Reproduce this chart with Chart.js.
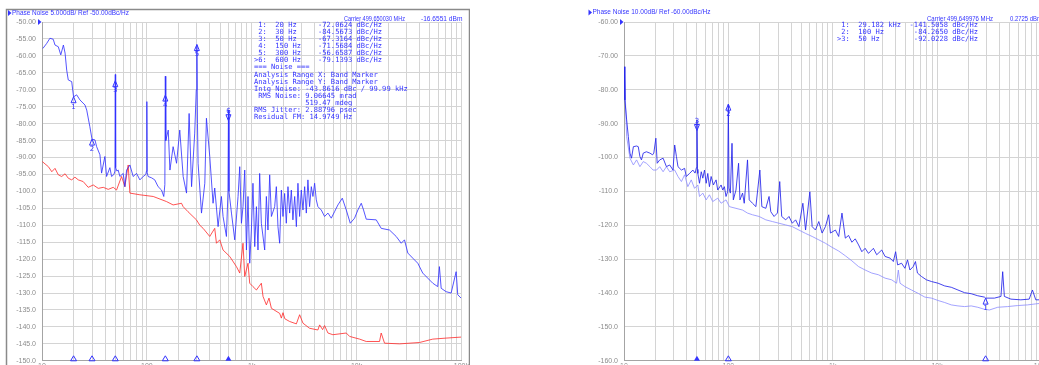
<!DOCTYPE html>
<html>
<head>
<meta charset="utf-8">
<script src="https://cdn.jsdelivr.net/npm/chart.js@4.4.1/dist/chart.umd.min.js"></script>
<style>
  html, body { margin: 0; padding: 0; background: #fff; width: 1039px; height: 365px; overflow: hidden; position: relative; }
  canvas { position: absolute; top: 0; }
  #left { left: 0; }
  #right { left: 580px; }
</style>
</head>
<body>
<canvas id="left" width="470" height="371" style="width:470px;height:371px"></canvas>
<canvas id="right" width="470" height="371" style="width:470px;height:371px"></canvas>
<script>
'use strict';

/**
 */

// left screen, measured trace (blue)
const pnFreq = [10.2, 11.1, 11.9, 12.8, 13.3, 14.3, 15.1, 16.0, 16.6, 17.2, 17.8, 19.2, 20, 21.4, 23, 25.7, 26.7, 28.6, 30, 32, 33.2, 35.7, 37, 39.8, 41.3, 44.4, 46.1, 48.5, 49.6, 50, 50.4, 51.8, 53.3, 55.3, 59.5, 61.7, 64.1, 68.9, 74.1, 79.8, 85.8, 92.2, 97.8, 99.2, 100, 100.8, 102.8, 111, 119, 128, 138, 145, 148.5, 150, 151.5, 160, 166, 178, 192, 206, 222, 239, 253, 267, 286, 296, 300, 304, 308, 332, 357, 370, 398, 428, 444, 478, 514, 533, 574, 594, 600, 607, 641, 689, 741, 769, 798, 826, 858, 891, 922, 957, 993, 1028, 1069, 1109, 1148, 1191, 1236, 1330, 1380, 1429, 1484, 1541, 1656, 1718, 1780, 1848, 1918, 1987, 2061, 2138, 2218, 2301, 2388, 2472, 2570, 2667, 2761, 2865, 2972, 3083, 3199, 3318, 3436, 3565, 3703, 3837, 3981, 4130, 4279, 4610, 4955, 5333, 5741, 6166, 6637, 7311, 7980, 8710, 9572, 10290, 11090, 11660, 12370, 15410, 17180, 20610, 23880, 26670, 28640, 30830, 34360, 38370, 42760, 47750, 53330, 59430, 61660, 64120, 71450, 79800, 89100, 92250, 99300];
const pnLevel = [-57.8, -56.3, -54.8, -55.1, -56.8, -57.3, -59.7, -56.8, -59.2, -64.2, -67.1, -67.6, -72.1, -71.5, -73, -74.5, -76, -80.9, -84.6, -84.8, -86.8, -89.2, -94.6, -89.7, -95.6, -93, -95.6, -95, -94, -65.5, -93, -94, -93.7, -95.6, -94.7, -98.6, -93.7, -92.2, -95.6, -94.7, -96.6, -95.6, -95, -94, -73.5, -94.5, -95.6, -96, -96.6, -98.6, -99.6, -101.5, -98, -66, -85, -81.9, -93.7, -86.8, -91.7, -81.9, -95.6, -100.5, -77, -98.6, -82.8, -70, -56.7, -80, -91.7, -106.4, -97.6, -78.4, -89.7, -103.5, -99, -110.4, -101.5, -107.4, -113.3, -100, -76, -100, -106.4, -114.3, -101.5, -92.7, -109.4, -104.5, -93.7, -117.3, -101.5, -121.2, -111.4, -97.6, -116.3, -104.5, -117.3, -94.7, -109.4, -117.3, -101.5, -111.4, -95.1, -107.4, -104.5, -98.6, -110.4, -115.3, -99.6, -107.4, -100.6, -109.4, -98.6, -106.4, -99.6, -108.4, -101.5, -110.4, -97.6, -107.4, -99.6, -105.5, -98.6, -106.4, -96.6, -104.5, -98.6, -101.5, -97.6, -102.5, -104.5, -105.5, -107.4, -106.4, -107.9, -106, -104, -102, -105.5, -109.4, -107.9, -105.5, -103.5, -105.5, -108.2, -108.4, -110.9, -111.4, -113.3, -115.3, -114.3, -118.2, -119.7, -121.2, -124.1, -125.6, -127.1, -128.1, -122.2, -128.6, -129.6, -130.0, -123.7, -130.5, -131.5];

// left screen, reference floor (red)
const floorFreq = [10.07, 10.7, 11.5, 12.4, 13.3, 14.3, 15.4, 16.6, 17.8, 19.2, 20.6, 22.2, 24.7, 27.6, 30.8, 34.4, 38.4, 42.8, 47.8, 51.4, 57.4, 61.7, 66.4, 68.9, 85.8, 115, 154, 178, 214, 222, 247, 297, 320, 344, 398, 444, 461, 496, 533, 617, 715, 769, 826, 858, 922, 957, 1028, 1109, 1236, 1282, 1380, 1462, 1541, 1848, 1918, 1987, 2070, 2301, 2667, 2865, 3083, 3565, 4279, 4443, 4745, 4955, 5333, 5943, 7980, 8580, 10690, 12370, 16560, 17180, 18490, 25700, 39810, 53330, 71450, 99300];
const floorLevel = [-91.2, -91.9, -92.7, -94.2, -93.2, -95.1, -95.6, -94.8, -96.1, -96.6, -95.8, -96.6, -97.1, -98.8, -98.1, -99.1, -98.8, -99.4, -98.8, -99.6, -95.6, -98.6, -92.2, -100.5, -101, -101.5, -103, -104, -103.5, -104.5, -106, -108.4, -110, -110.9, -113.3, -110.9, -115.3, -114.3, -117.3, -119.2, -122.2, -124.1, -115.3, -125.1, -121.2, -127.1, -128.1, -129.1, -127.1, -131, -133.5, -131.5, -134.5, -136, -137.4, -135.8, -137.6, -138.4, -139.1, -136.4, -138.9, -140.4, -140.9, -139.4, -140.8, -139.6, -141.8, -142.3, -141.8, -142.8, -143.6, -144.3, -144.3, -141.8, -144.8, -145, -144.6, -143.6, -143.3, -143];

// right screen, measured trace (dark blue)
const dutFreq = [10.07, 10.2, 10.6, 11.0, 11.4, 11.8, 12.3, 13.2, 13.7, 14.2, 14.7, 15.3, 16.4, 17.7, 18.8, 19.3, 20.2, 20.8, 22.0, 23.7, 25.5, 27.4, 29.5, 30.6, 31.8, 32.9, 35.5, 38.1, 39.5, 42.5, 45.7, 48.0, 49.4, 50, 50.6, 51.0, 52.9, 55.0, 56.9, 59.1, 61.3, 63.5, 65.9, 68.4, 71.9, 76.3, 79.1, 85.2, 88.3, 91.6, 95.0, 98.4, 100, 101.5, 104.5, 108.4, 111.6, 118.3, 125.3, 129.2, 136.8, 142, 152.6, 158.5, 170.3, 183.6, 200.4, 209.4, 228.6, 245.6, 255.1, 274.2, 295.1, 310.7, 324.6, 354.5, 381, 409.5, 441.2, 474.2, 517.6, 549.5, 603.9, 635.3, 684, 735.6, 791, 851, 916, 951, 1062, 1141, 1227, 1321, 1419, 1527, 1644, 1770, 1901, 2046, 2203, 2455, 2641, 2950, 3176, 3548, 3811, 4009, 4188, 4571, 4920, 5212, 5495, 5907, 6209, 6489, 7083, 7907, 8831, 10230, 11840, 13680, 15850, 18360, 21230, 24550, 28430, 29182, 35480, 40960, 42540, 44160, 51050, 63530, 76380, 82060, 88310, 100000];
const dutLevel = [-73.2, -83, -88.9, -93.8, -98.7, -100.2, -96.8, -96.6, -96.8, -99.7, -100.7, -98.7, -98.3, -98.7, -99.2, -98.7, -94.3, -101.7, -100.7, -100.2, -102.7, -102.2, -103.7, -96.3, -99.7, -102.7, -103.7, -103.2, -105.6, -104.7, -103.7, -104.6, -103, -88.9, -103.5, -104.7, -107.6, -104.2, -106.1, -103.7, -107.6, -104.7, -108.6, -105.6, -108.1, -106.6, -109.6, -108.1, -109.6, -108.6, -111.5, -110.1, -84.3, -109, -110.5, -95.8, -112.5, -109.6, -101.7, -112.5, -110.5, -113.5, -100.7, -112.5, -113.5, -114.5, -103.7, -114.5, -115.0, -111.5, -116, -117.4, -116.4, -107.1, -117.4, -118.4, -117.4, -119.4, -118.4, -120.4, -113.5, -121.4, -110.1, -120.4, -121.4, -118.9, -122.3, -120.4, -116.9, -122.3, -121.4, -123.3, -116.4, -123.8, -123, -125, -124, -125.8, -127.8, -126.8, -128.3, -126.8, -128.7, -127.3, -129.2, -129.7, -130.7, -127.8, -131.7, -131.2, -132.7, -130.2, -133.2, -132.2, -130.7, -134.1, -135.1, -136.1, -136.6, -137.1, -137.9, -138.3, -139.1, -139.9, -140.2, -140.8, -141.2, -141.5, -141.5, -141, -133.7, -141, -141.8, -142, -141.8, -139.1, -142, -142];

// right screen, reference trace (light blue)
const refFreq = [10.1, 10.4, 10.6, 11.4, 12.3, 13.2, 14.2, 15.3, 16.4, 17.7, 19.0, 20.5, 22.0, 23.7, 25.5, 27.4, 30.6, 32.9, 35.5, 38.1, 40.9, 44.1, 47.4, 51.0, 52.9, 56.9, 61.3, 65.9, 70.8, 79.1, 85.2, 95.0, 102.3, 118.3, 136.8, 152.6, 170.3, 197.2, 228.6, 264.2, 306, 354.5, 409.5, 474.2, 549.5, 635.3, 735.6, 851, 984, 1141, 1321, 1527, 1770, 2046, 2367, 2742, 3176, 3673, 4093, 4256, 4416, 4920, 5692, 6592, 7638, 8831, 10230, 11840, 13680, 15850, 18360, 21230, 24550, 28430, 31770, 38110, 47430, 59020, 73620, 88310, 100000];
const refLevel = [-75, -86, -93.8, -100.2, -102.2, -100.7, -102.7, -101.2, -101.7, -102.7, -103.7, -103.7, -102.7, -104.2, -102.7, -104.2, -103.7, -105.6, -107.1, -105.1, -108.6, -106.6, -109.1, -108.1, -111.5, -110.5, -112.5, -111, -113, -112, -113.5, -112.5, -114.5, -115, -115.5, -116.4, -116.9, -117.4, -118.4, -118.9, -119.4, -119.9, -120.4, -121.4, -122.4, -123.3, -124.3, -125.3, -126.5, -127.6, -129, -130.5, -132.2, -133.2, -134.1, -134.6, -135.6, -136.1, -137.1, -133.2, -137.1, -138.1, -139.1, -140.1, -141.2, -141.5, -142.2, -142.8, -143.5, -143.8, -144, -143.8, -144.2, -144.8, -145, -144.2, -144, -143.7, -143.5, -143.2, -143];

// axes
const freqGrid = [10, 20, 30, 40, 50, 60, 70, 80, 90, 100, 200, 300, 400, 500, 600, 700, 800, 900, 1000, 2000, 3000, 4000, 5000, 6000, 7000, 8000, 9000, 10000, 20000, 30000, 40000, 50000, 60000, 70000, 80000, 90000, 100000];
const decades = [10, 100, 1000, 10000, 100000];
const decadeText = ['10', '100', '1k', '10k', '100k'];
const leftLevels = [-50, -55, -60, -65, -70, -75, -80, -85, -90, -95, -100, -105, -110, -115, -120, -125, -130, -135, -140, -145, -150];
const rightLevels = [-60, -70, -80, -90, -100, -110, -120, -130, -140, -150, -160];

// markers
const leftMarkerFreq = [20, 30, 50, 150, 300, 600];
const leftMarkerLevel = [-72.0624, -84.5673, -67.3164, -71.5684, -56.6587, -79.1393];
const rightMarkerFreq = [29182, 100, 50];
const rightMarkerLevel = [-141.5058, -84.2650, -92.0228];

const leftReadout = [
  ' 1:  20 Hz     -72.0624 dBc/Hz',
  ' 2:  30 Hz     -84.5673 dBc/Hz',
  ' 3:  50 Hz     -67.3164 dBc/Hz',
  ' 4:  150 Hz    -71.5684 dBc/Hz',
  ' 5:  300 Hz    -56.6587 dBc/Hz',
  '>6:  600 Hz    -79.1393 dBc/Hz',
  '=== Noise ===',
  'Analysis Range X: Band Marker',
  'Analysis Range Y: Band Marker',
  'Intg Noise: -43.8616 dBc / 99.99 kHz',
  ' RMS Noise: 9.06645 mrad',
  '            519.47 mdeg',
  'RMS Jitter: 2.88796 psec',
  'Residual FM: 14.9749 Hz'
];
const rightReadout = [
  ' 1:  29.182 kHz  -141.5058 dBc/Hz',
  ' 2:  100 Hz       -84.2650 dBc/Hz',
  '>3:  50 Hz        -92.0228 dBc/Hz'
];


/**
 * helpers
 */

const toPoints = function (xs, ys) {
  return xs.map(function (x, i) { return { x: x, y: ys[i] }; });
}

const BLUE_TEXT = '#3434ff';

const drawMarker = function (ctx, x, y, label, active) {
  ctx.beginPath();
  if (active) {
    ctx.moveTo(x, y); ctx.lineTo(x - 2.5, y - 6); ctx.lineTo(x + 2.5, y - 6);
  } else {
    ctx.moveTo(x, y); ctx.lineTo(x - 2.5, y + 6); ctx.lineTo(x + 2.5, y + 6);
  }
  ctx.closePath();
  ctx.stroke();
  ctx.fillText(label, x, active ? y - 9.5 : y + 10);
}

const overlay = function (o) {
  return {
    id: 'screen',
    afterDraw: function (chart) {
      const ctx = chart.ctx;
      const xs = chart.scales.x;
      const ys = chart.scales.y;
      const area = chart.chartArea;
      ctx.save();

      if (o.frame) {
        ctx.strokeStyle = '#8a8a8a';
        ctx.lineWidth = 1.5;
        ctx.beginPath();
        ctx.moveTo(6.5, 371); ctx.lineTo(6.5, 9.5); ctx.lineTo(469.5, 9.5); ctx.lineTo(469.5, 371);
        ctx.stroke();
      }

      // title + carrier
      ctx.fillStyle = BLUE_TEXT;
      ctx.textBaseline = 'middle';
      ctx.textAlign = 'left';
      ctx.beginPath();
      ctx.moveTo(o.title[0] - 3.5, o.title[1] - 3); ctx.lineTo(o.title[0], o.title[1]); ctx.lineTo(o.title[0] - 3.5, o.title[1] + 3);
      ctx.fill();
      ctx.font = "7px 'Liberation Sans'";
      ctx.fillText(o.title[2], o.title[0] + 0.5, o.title[1], o.title[3]);
      ctx.font = "6.6px 'Liberation Sans'";
      ctx.fillText(o.carrier[2], o.carrier[0], o.carrier[1], o.carrier[3]);
      ctx.fillText(o.power[2], o.power[0], o.power[1], o.power[3]);

      // reference arrow next to top level
      const ty = ys.getPixelForValue(ys.max);
      ctx.beginPath();
      ctx.moveTo(area.left - 4, ty - 3); ctx.lineTo(area.left - 0.5, ty); ctx.lineTo(area.left - 4, ty + 3);
      ctx.fill();

      // readout
      ctx.font = "7.1px 'DejaVu Sans Mono'";
      o.readout.forEach(function (line, i) {
        ctx.fillText(line, o.readoutPos[0], o.readoutPos[1] + i * 7.1);
      });

      // markers on the trace
      ctx.strokeStyle = BLUE_TEXT;
      ctx.lineWidth = 1;
      ctx.textAlign = 'center';
      ctx.font = "7px 'DejaVu Sans'";
      o.markerFreq.forEach(function (f, i) {
        const px = xs.getPixelForValue(f);
        const py = ys.getPixelForValue(o.markerLevel[i]);
        drawMarker(ctx, px, py, String(i + 1), i === o.active);
        // marker on the frequency axis
        ctx.beginPath();
        ctx.moveTo(px, area.bottom - 5); ctx.lineTo(px - 3, area.bottom); ctx.lineTo(px + 3, area.bottom);
        ctx.closePath();
        if (i === o.active) ctx.fill(); else ctx.stroke();
      });
      ctx.restore();
    }
  };
}

const buildChart = function (id, o) {
  return new Chart(document.getElementById(id), {
    type: 'line',
    data: { datasets: o.datasets },
    options: {
      responsive: false,
      animation: false,
      layout: { padding: { top: 22, right: o.padRight, left: 0, bottom: 0 } },
      plugins: { legend: { display: false }, tooltip: { enabled: false } },
      elements: { point: { radius: 0 }, line: { borderWidth: 1, tension: 0 } },
      scales: {
        x: {
          type: 'logarithmic',
          min: 10,
          max: 100000,
          afterBuildTicks: function (s) { s.ticks = freqGrid.map(function (v) { return { value: v }; }); },
          afterFit: function (s) { s.height = o.xHeight; },
          grid: { color: '#d4d4d4', drawTicks: false },
          border: { color: '#a4a4a4' },
          ticks: {
            autoSkip: false, maxRotation: 0, padding: 1, color: '#8c8c8c',
            font: { family: 'Liberation Sans', size: 7 },
            callback: function (v) {
              const k = decades.indexOf(v);
              return k >= 0 ? decadeText[k] : '';
            }
          }
        },
        y: {
          min: o.levels[o.levels.length - 1],
          max: o.levels[0],
          afterBuildTicks: function (s) { s.ticks = o.levels.map(function (v) { return { value: v }; }); },
          afterFit: function (s) { s.width = o.yWidth; },
          grid: { color: '#d4d4d4', drawTicks: false },
          border: { color: '#a4a4a4' },
          ticks: {
            autoSkip: false, padding: 6, color: '#8c8c8c',
            font: { family: 'Liberation Sans', size: 7 },
            callback: function (v) { return v > -100 ? v.toFixed(2) : v.toFixed(1); }
          }
        }
      }
    },
    plugins: [overlay(o)]
  });
}


/**
 * left screen
 */

buildChart('left', {
  datasets: [
    { data: toPoints(pnFreq, pnLevel), borderColor: 'rgba(48,48,255,0.82)' },
    { data: toPoints(floorFreq, floorLevel), borderColor: 'rgba(255,40,40,0.8)' }
  ],
  levels: leftLevels,
  padRight: 8.5,
  xHeight: 4.5,
  yWidth: 42,
  frame: true,
  title: [11.5, 13, 'Phase Noise 5.000dB/ Ref -50.00dBc/Hz', 117],
  carrier: [344, 19, 'Carrier 499.650030 MHz', 61],
  power: [421, 19, '-16.6551 dBm', 42],
  readout: leftReadout,
  readoutPos: [254, 25],
  markerFreq: leftMarkerFreq,
  markerLevel: leftMarkerLevel,
  active: 5
});


/**
 * right screen
 */

buildChart('right', {
  datasets: [
    { data: toPoints(dutFreq, dutLevel), borderColor: 'rgba(36,36,235,0.85)' },
    { data: toPoints(refFreq, refLevel), borderColor: 'rgba(140,140,255,0.8)' }
  ],
  levels: rightLevels,
  padRight: 6,
  xHeight: 4,
  yWidth: 44,
  frame: false,
  title: [12, 12.5, 'Phase Noise 10.00dB/ Ref -60.00dBc/Hz', 118],
  carrier: [347, 19, 'Carrier 499.649976 MHz', 66],
  power: [430, 19, '0.2725 dBm', 32],
  readout: rightReadout,
  readoutPos: [257, 25],
  markerFreq: rightMarkerFreq,
  markerLevel: rightMarkerLevel,
  active: 2
});
</script>
</body>
</html>
